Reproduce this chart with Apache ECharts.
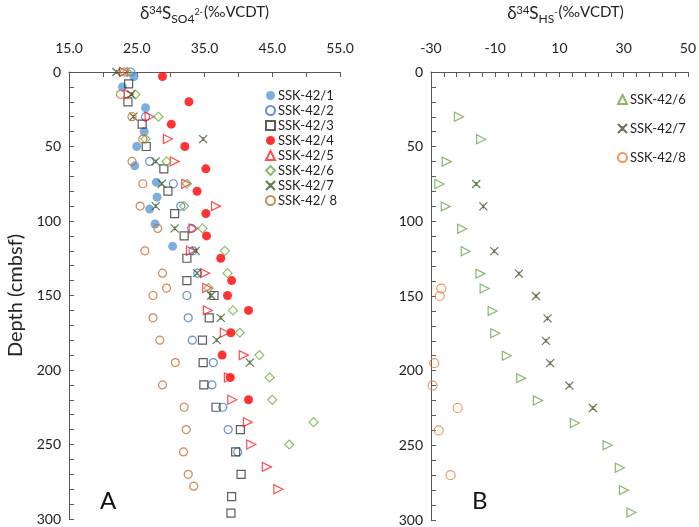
<!DOCTYPE html>
<html>
<head>
<meta charset="utf-8">
<script src="https://cdn.jsdelivr.net/npm/echarts@6/dist/echarts.min.js"></script>
<style>
  html, body { margin: 0; padding: 0; background: #fff; }
  #chart { width: 699px; height: 527px; }
</style>
</head>
<body>
<div id="chart"></div>
<script>
// panel A: [delta34S SO4, depth cmbsf]
const ssk1 = [[24.6,3],[22.9,10],[26.3,24],[26.1,40],[25.0,50],[24.7,63],[27.9,74],[28.0,84],[26.9,92],[27.7,102],[30.3,117]];
const ssk2 = [[24.1,0],[26.3,30],[26.9,60],[30.4,75],[31.5,90],[33.1,105],[33.3,120],[34.0,135],[32.4,150],[32.6,165],[33.2,180],[36.3,195],[36.1,210],[37.7,225],[38.5,240],[39.9,255]];
const ssk3 = [[23.8,8],[23.7,20],[25.8,35],[26.4,50],[29.0,65],[29.6,80],[30.6,95],[32.0,110],[32.4,125],[32.4,140],[36.4,150],[35.7,165],[34.7,180],[34.8,195],[34.9,210],[36.7,225],[40.3,240],[39.6,255],[40.4,270],[39.0,285],[38.9,296]];
const ssk4 = [[28.8,3],[32.7,20],[30.1,35],[32.1,50],[35.2,65],[33.9,80],[35.2,95],[35.3,110],[37.4,125],[39.0,140],[38.4,150],[41.5,160],[38.9,175],[37.6,190],[38.8,205],[41.5,220]];
const ssk5 = [[23.1,0],[23.8,15],[26.9,30],[29.6,45],[30.6,60],[32.3,75],[36.7,90],[33.4,105],[33.0,120],[35.1,135],[35.4,145],[35.5,160],[38.0,175],[40.8,190],[38.6,205],[39.1,220],[41.4,235],[41.9,250],[44.2,265],[45.9,280]];
const ssk6 = [[23.6,0],[24.8,15],[28.2,30],[26.3,45],[29.4,60],[32.4,75],[32.0,90],[34.7,105],[38.0,120],[38.4,135],[35.6,145],[39.2,160],[40.2,175],[43.1,190],[44.6,205],[45.0,220],[51.1,235],[47.5,250]];
const ssk7 = [[22.0,0],[24.2,15],[24.5,30],[34.8,45],[27.8,60],[28.7,75],[27.8,90],[30.6,105],[33.7,120],[33.9,135],[36.0,150],[37.4,165],[36.8,180],[41.7,195]];
const ssk8 = [[23.2,0],[22.6,15],[24.3,30],[25.9,45],[24.3,60],[25.9,75],[25.5,90],[28.1,105],[26.2,120],[28.8,135],[29.4,145],[27.4,150],[27.4,165],[28.4,180],[30.7,195],[28.8,210],[32.0,225],[32.3,240],[31.9,255],[32.6,270],[33.4,278]];

// panel B: [delta34S HS-, depth cmbsf]
const hs6 = [[-21.3,30],[-14.4,45],[-25.1,60],[-27.4,75],[-25.4,90],[-20.3,105],[-19.2,120],[-14.6,135],[-13.3,145],[-10.8,160],[-10.0,175],[-6.4,190],[-1.9,205],[3.3,220],[14.8,235],[25.0,250],[28.8,265],[30.1,280],[32.4,295]];
const hs7 = [[-15.9,75],[-13.7,90],[-10.3,120],[-2.6,135],[2.7,150],[6.3,165],[5.8,180],[7.1,195],[13.1,210],[20.4,225]];
const hs8 = [[-26.8,145],[-27.3,150],[-29.0,195],[-29.5,210],[-21.7,225],[-27.6,240],[-23.9,270]];

const namesA = ['SSK-42/1','SSK-42/2','SSK-42/3','SSK-42/4','SSK-42/5','SSK-42/6','SSK-42/7','SSK-42/ 8'];
const namesB = ['B:SSK-42/6','B:SSK-42/7','B:SSK-42/8'];

const font = 'Lato, "Open Sans", sans-serif';
const axisCol = '#595959';
const txtCol = '#222';
const starPath = 'path://M0,0L10,10M10,0L0,10M5,2.5L5,7.5';

const chart = echarts.init(document.getElementById('chart'));

function filled(name, data, symbol, color, size, grid) {
  return {
    name: name, type: 'scatter', data: data, symbol: symbol, symbolSize: size,
    xAxisIndex: grid, yAxisIndex: grid,
    itemStyle: { color: color },
    emphasis: { disabled: true }
  };
}
function hollow(name, data, symbol, color, size, grid, rotate) {
  return {
    name: name, type: 'scatter', data: data, symbol: symbol, symbolSize: size,
    symbolRotate: rotate || 0,
    xAxisIndex: grid, yAxisIndex: grid,
    itemStyle: { color: 'rgba(255,255,255,0)', borderColor: color, borderWidth: 1.2 },
    emphasis: { disabled: true }
  };
}

// rich styles for the delta-notation axis titles
const titleRich = {
  m: { fontSize: 17, fontFamily: font, color: txtCol, lineHeight: 19, verticalAlign: 'top' },
  sup: { fontSize: 11, fontFamily: font, color: txtCol, verticalAlign: 'top' },
  sub: { fontSize: 12, fontFamily: font, color: txtCol, verticalAlign: 'top', padding: [8, 0, 0, 0] },
  sup2: { fontSize: 9, fontFamily: font, color: txtCol, verticalAlign: 'top', padding: [3, 1, 0, 0] },
  p: { fontSize: 15, fontFamily: font, color: txtCol, lineHeight: 19, verticalAlign: 'top' }
};

function xAxis(grid, min, max, interval, minorSplit, fmt, name, shift) {
  return {
    gridIndex: grid, type: 'value', position: 'top',
    min: min, max: max, interval: interval,
    name: name, nameLocation: 'middle', nameGap: 47,
    nameTextStyle: { color: txtCol, fontFamily: font, rich: titleRich, padding: [0, 0, 0, shift] },
    axisLine: { show: true, onZero: false, lineStyle: { color: axisCol, width: 1 } },
    axisTick: { show: true, inside: true, length: 5, lineStyle: { color: axisCol } },
    minorTick: { show: true, splitNumber: minorSplit, length: 5, lineStyle: { color: axisCol } },
    splitLine: { show: false },
    axisLabel: { color: txtCol, fontSize: 14, fontFamily: font, margin: 17, formatter: fmt }
  };
}

function yAxis(grid, name) {
  return {
    gridIndex: grid, type: 'value', inverse: true,
    min: 0, max: 300, interval: 50,
    name: name, nameLocation: 'middle', nameGap: 43, nameRotate: 90,
    nameTextStyle: { color: txtCol, fontSize: 20, fontFamily: font },
    axisLine: { show: true, onZero: false, lineStyle: { color: axisCol, width: 1 } },
    axisTick: { show: true, inside: true, length: 5, lineStyle: { color: axisCol } },
    minorTick: { show: true, splitNumber: 5, length: 5, lineStyle: { color: axisCol } },
    splitLine: { show: false },
    axisLabel: { color: txtCol, fontSize: 14, fontFamily: font, margin: 8 }
  };
}

chart.setOption({
  backgroundColor: '#fff',
  animation: false,
  grid: [
    { left: 69, top: 69, width: 271, height: 450 },
    { left: 431, top: 69, width: 261, height: 451 }
  ],
  xAxis: [
    xAxis(0, 15, 55, 10, 2, v => v.toFixed(1), '{m|δ}{sup|34}{m|S}{sub|SO4}{sup2|2-}{p|(‰VCDT)}', 0),
    xAxis(1, -30, 50, 20, 5, v => String(v), '{m|δ}{sup|34}{m|S}{sub|HS}{sup2|-}{p|(‰VCDT)}', 12)
  ],
  yAxis: [
    yAxis(0, 'Depth (cmbsf)'),
    yAxis(1, '')
  ],
  legend: [
    {
      data: namesA, orient: 'vertical', left: 260, top: 84,
      itemWidth: 9, itemHeight: 9, itemGap: 2, symbolRotate: 0,
      selectedMode: false,
      textStyle: { color: txtCol, fontSize: 13, fontFamily: font, padding: [0, 0, 0, -2] }
    },
    {
      data: namesB, orient: 'vertical', left: 612, top: 88,
      itemWidth: 9, itemHeight: 9, itemGap: 16, symbolRotate: 0,
      selectedMode: false,
      formatter: n => n.replace('B:', ''),
      textStyle: { color: txtCol, fontSize: 13, fontFamily: font, padding: [0, 0, 0, -2] }
    }
  ],
  graphic: [
    { type: 'text', left: 100, top: 489, style: { text: 'A', fontSize: 24, fontFamily: font, fill: '#111' } },
    { type: 'text', left: 472, top: 489, style: { text: 'B', fontSize: 24, fontFamily: font, fill: '#111' } }
  ],
  series: [
    filled(namesA[0], ssk1, 'circle', '#5B9BD5', 9, 0),
    hollow(namesA[1], ssk2, 'circle', '#4472C4', 8, 0),
    hollow(namesA[2], ssk3, 'rect', '#333333', 8, 0),
    filled(namesA[3], ssk4, 'circle', '#FF0000', 9, 0),
    hollow(namesA[4], ssk5, 'triangle', '#FF2020', 9, 0, -90),
    hollow(namesA[5], ssk6, 'diamond', '#70AD47', 9, 0),
    hollow(namesA[6], ssk7, starPath, '#385723', 8, 0),
    hollow(namesA[7], ssk8, 'circle', '#C46A2E', 8, 0),
    hollow(namesB[0], hs6, 'triangle', '#6FA24A', 9, 1, -90),
    hollow(namesB[1], hs7, starPath, '#385723', 8, 1),
    hollow(namesB[2], hs8, 'circle', '#ED7D31', 9, 1)
  ]
});
</script>
</body>
</html>
